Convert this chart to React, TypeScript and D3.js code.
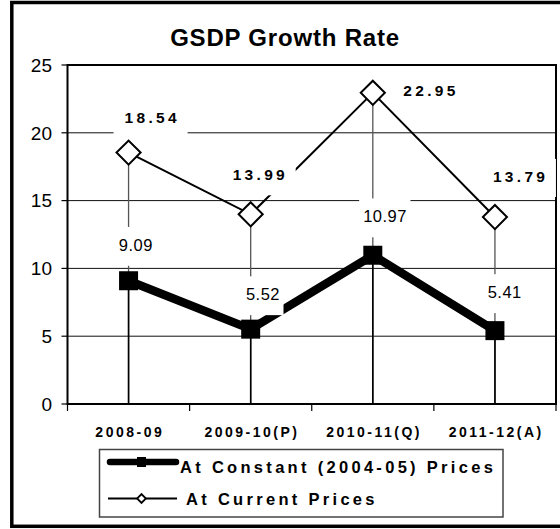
import React, { useEffect, useRef } from "react";
import * as d3 from "d3";

const categories = ["2008-09", "2009-10(P)", "2010-11(Q)", "2011-12(A)"];
const constantPrices = [9.09, 5.52, 10.97, 5.41];
const currentPrices = [18.54, 13.99, 22.95, 13.79];
const yTicks = [0, 5, 10, 15, 20, 25];
const titleText = "GSDP Growth Rate";
const legendLabels = ["At Constant (2004-05) Prices", "At Current Prices"];

// label placement offsets (pixels, relative to the point) as in the original
const constantLabelOffsets = [[7, -30], [12, -29], [12, -33], [9.5, -32.6]];
const currentLabelOffsets = [[22, -30], [8, -34], [56.5, 3], [24, -35]];

const W = 560;
const H = 529;
const FONT = "'Liberation Sans', Arial, Helvetica, sans-serif";

export default function App() {
  const ref = useRef<SVGSVGElement | null>(null);

  useEffect(() => {
    const svg = d3.select(ref.current);
    svg.selectAll("*").remove();

    const left = 67.5, right = 556, top = 65, bottom = 404;
    const x = d3.scaleBand<string>().domain(categories).range([left, right]);
    const cx = (c: string) => (x(c) as number) + x.bandwidth() / 2;
    const y = d3.scaleLinear().domain([0, 25]).range([bottom, top]);

    svg.append("rect").attr("width", W).attr("height", H).attr("fill", "#fff");

    // gridlines
    svg.append("g").selectAll("line").data(yTicks.filter((t) => t > 0 && t < 25)).join("line")
      .attr("x1", left).attr("x2", right)
      .attr("y1", (d) => y(d)).attr("y2", (d) => y(d))
      .attr("stroke", "#111").attr("stroke-width", 1);

    // drop lines
    const drops = svg.append("g");
    categories.forEach((c, i) => {
      drops.append("line").attr("x1", cx(c)).attr("x2", cx(c))
        .attr("y1", y(currentPrices[i])).attr("y2", bottom)
        .attr("stroke", "#555").attr("stroke-width", 1.3);
      drops.append("line").attr("x1", cx(c)).attr("x2", cx(c))
        .attr("y1", y(constantPrices[i])).attr("y2", bottom)
        .attr("stroke", "#000").attr("stroke-width", 1.6);
    });

    // plot frame
    svg.append("rect").attr("x", left).attr("y", top)
      .attr("width", right - left).attr("height", bottom - top)
      .attr("fill", "none").attr("stroke", "#000").attr("stroke-width", 2);

    // y ticks + labels
    const yAxis = svg.append("g");
    yTicks.forEach((t) => {
      yAxis.append("line").attr("x1", left - 6).attr("x2", left)
        .attr("y1", y(t)).attr("y2", y(t)).attr("stroke", "#000").attr("stroke-width", 1.2);
      yAxis.append("text").attr("x", 52).attr("y", y(t)).attr("dy", "0.36em")
        .attr("text-anchor", "end").attr("font-family", FONT).attr("font-size", 19)
        .attr("fill", "#000").text(String(t));
    });

    // x ticks + labels
    const xAxis = svg.append("g");
    const bounds = [left, ...categories.map((c) => (x(c) as number) + x.bandwidth())];
    bounds.forEach((b) => {
      xAxis.append("line").attr("x1", b).attr("x2", b).attr("y1", bottom).attr("y2", bottom + 7)
        .attr("stroke", "#000").attr("stroke-width", 1.2);
    });
    const xls = 2.5;
    categories.forEach((c) => {
      xAxis.append("text").attr("x", cx(c) + xls / 2).attr("y", 437)
        .attr("text-anchor", "middle").attr("font-family", FONT).attr("font-size", 14)
        .attr("font-weight", "bold").attr("letter-spacing", xls).attr("fill", "#000").text(c);
    });

    // constant series (thick)
    const line = d3.line<number>().x((_, i) => cx(categories[i])).y((d) => y(d));
    svg.append("path").attr("d", line(constantPrices) as string)
      .attr("fill", "none").attr("stroke", "#000").attr("stroke-width", 8.5)
      .attr("stroke-linejoin", "round");
    const sq = 19;
    svg.append("g").selectAll("rect").data(constantPrices).join("rect")
      .attr("x", (_, i) => cx(categories[i]) - sq / 2).attr("y", (d) => y(d) - sq / 2)
      .attr("width", sq).attr("height", sq).attr("fill", "#000");

    // current series (thin)
    svg.append("path").attr("d", line(currentPrices) as string)
      .attr("fill", "none").attr("stroke", "#000").attr("stroke-width", 2);
    const dm = d3.symbol().type(d3.symbolSquare).size(290);
    svg.append("g").selectAll("path").data(currentPrices).join("path")
      .attr("d", dm() as string)
      .attr("transform", (d, i) => `translate(${cx(categories[i])},${y(d)}) rotate(45)`)
      .attr("fill", "#fff").attr("stroke", "#000").attr("stroke-width", 2);

    // data labels with white boxes
    const addLabel = (
      px: number, py: number, text: string, fs: number, bold: boolean, ls: number,
      padX: number, padTop: number, padBottom: number
    ) => {
      const g = svg.append("g");
      const rect = g.append("rect").attr("fill", "#fff");
      const t = g.append("text").attr("x", px + ls / 2).attr("y", py)
        .attr("text-anchor", "middle").attr("font-family", FONT).attr("font-size", fs)
        .attr("font-weight", bold ? "bold" : "normal").attr("letter-spacing", ls)
        .attr("fill", "#000").text(text);
      const bb = (t.node() as SVGTextElement).getBBox();
      const l = bb.x, r = bb.x + bb.width - ls;
      rect.attr("x", l - padX).attr("width", r - l + 2 * padX)
        .attr("y", py - fs * 0.716 - padTop).attr("height", fs * 0.716 + padTop + padBottom);
    };
    constantPrices.forEach((v, i) => {
      const [dx, dy] = constantLabelOffsets[i];
      addLabel(cx(categories[i]) + dx, y(v) + dy, v.toFixed(2), 16.5, false, 0.5, 4, 12, 15);
    });
    currentPrices.forEach((v, i) => {
      const [dx, dy] = currentLabelOffsets[i];
      addLabel(cx(categories[i]) + dx, y(v) + dy, v.toFixed(2), 15.5, true, 3.3, 11, 12, 15);
    });

    // title
    svg.append("text").attr("x", 285).attr("y", 46).attr("text-anchor", "middle")
      .attr("font-family", FONT).attr("font-size", 24).attr("font-weight", "bold")
      .attr("letter-spacing", 0.8).attr("fill", "#000").text(titleText);

    // legend
    const lg = svg.append("g");
    lg.append("rect").attr("x", 99.5).attr("y", 449.5).attr("width", 403.5).attr("height", 67.5)
      .attr("fill", "#fff").attr("stroke", "#444").attr("stroke-width", 1.5);
    lg.append("line").attr("x1", 110).attr("x2", 176).attr("y1", 462).attr("y2", 462)
      .attr("stroke", "#000").attr("stroke-width", 6.5).attr("stroke-linecap", "round");
    lg.append("rect").attr("x", 137).attr("y", 457).attr("width", 9).attr("height", 10).attr("fill", "#000");
    lg.append("line").attr("x1", 108).attr("x2", 177).attr("y1", 498.5).attr("y2", 498.5)
      .attr("stroke", "#000").attr("stroke-width", 2);
    lg.append("path").attr("d", d3.symbol().type(d3.symbolSquare).size(38)() as string)
      .attr("transform", "translate(141.5,498.5) rotate(45)")
      .attr("fill", "#fff").attr("stroke", "#000").attr("stroke-width", 1.8);
    lg.append("text").attr("x", 180).attr("y", 473).attr("font-family", FONT)
      .attr("font-size", 16.5).attr("font-weight", "bold").attr("letter-spacing", 3.3)
      .attr("fill", "#000").text(legendLabels[0]);
    lg.append("text").attr("x", 186).attr("y", 504.5).attr("font-family", FONT)
      .attr("font-size", 16.5).attr("font-weight", "bold").attr("letter-spacing", 3.3)
      .attr("fill", "#000").text(legendLabels[1]);

    // outer chart frame
    svg.append("rect").attr("x", 11.8).attr("y", 2.5).attr("width", 552).attr("height", 523.8)
      .attr("fill", "none").attr("stroke", "#000").attr("stroke-width", 3.5);
  }, []);

  return (
    <svg
      ref={ref}
      width={W}
      height={H}
      style={{ position: "absolute", left: 0, top: 0, display: "block" }}
    />
  );
}
